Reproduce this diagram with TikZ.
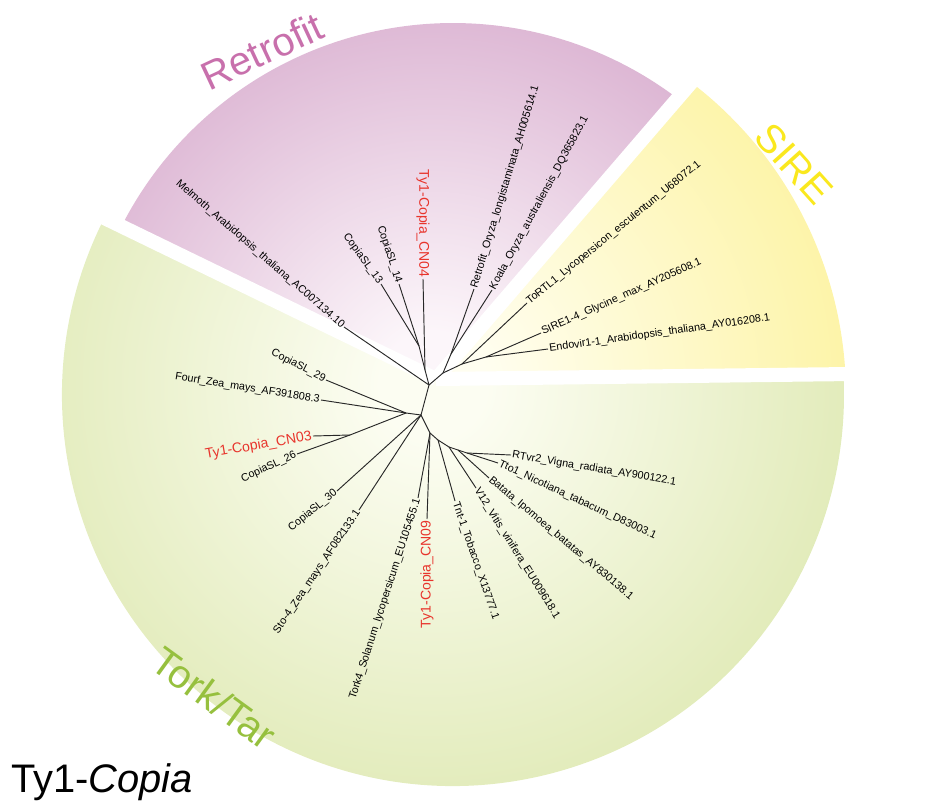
\documentclass[tikz,border=0pt]{standalone}
\usepackage{fontspec}
\setmainfont{Liberation Sans}
\usetikzlibrary{positioning}

\definecolor{retroout}{RGB}{198,136,184}
\definecolor{retroin}{RGB}{252,246,250}
\definecolor{sireout}{RGB}{252,239,132}
\definecolor{sirein}{RGB}{255,254,240}
\definecolor{torkout}{RGB}{208,223,148}
\definecolor{torkin}{RGB}{252,253,242}
\definecolor{retrotext}{RGB}{200,112,172}
\definecolor{siretext}{RGB}{250,232,30}
\definecolor{torktext}{RGB}{150,192,62}
\definecolor{cnred}{RGB}{232,52,44}
\definecolor{branchgray}{RGB}{40,40,40}

\pgfdeclareradialshading{retroshade}{\pgfpointorigin}{color(0bp)=(retroin); color(3bp)=(retroin); color(35bp)=(retroout); color(50bp)=(retroout)}
\pgfdeclareradialshading{sireshade}{\pgfpointorigin}{color(0bp)=(sirein); color(3bp)=(sirein); color(34bp)=(sireout); color(50bp)=(sireout)}
\pgfdeclareradialshading{torkshade}{\pgfpointorigin}{color(0bp)=(torkin); color(3bp)=(torkin); color(38bp)=(torkout); color(50bp)=(torkout)}

\begin{document}
\begin{tikzpicture}[x=0.03cm, y=-0.03cm,
    leaf/.style={font=\fontsize{9.2}{10}\selectfont, inner sep=1pt},
    cn/.style={font=\fontsize{12}{14}\selectfont, text=cnred, inner sep=1pt},
    cat/.style={font=\fontsize{34}{40}\selectfont, inner sep=0pt},
    branch/.style={draw=branchgray, line width=0.8pt},
    gap/.style={draw=white, line width=12pt}]
        \useasboundingbox (0,0) rectangle (944,807);

        \coordinate (ctr)  at (453,395);
        \coordinate (apex) at (436,379);
        \coordinate (hub)  at (433,385);

        \begin{scope}
            \clip (apex) -- ([shift={(ctr)}]-2.8:393) arc[start angle=-2.8, end angle=-52.3, radius=393] -- cycle;
            \shade[shading=sireshade] (hub) circle (440);
        \end{scope}
        \begin{scope}
            \clip (apex) -- ([shift={(ctr)}]-52.3:372) arc[start angle=-52.3, end angle=-153.2, radius=372] -- cycle;
            \shade[shading=retroshade] (hub) circle (440);
        \end{scope}
        \begin{scope}
            \clip (apex) -- ([shift={(ctr)}]-153.2:391) arc[start angle=-153.2, end angle=-362.8, radius=391] -- cycle;
            \shade[shading=torkshade] (hub) circle (440);
        \end{scope}

        \coordinate (g1) at ([shift={(ctr)}]-2.8:440);
        \coordinate (g2) at ([shift={(ctr)}]-52.3:440);
        \coordinate (g3) at ([shift={(ctr)}]-153.2:440);
        \draw[gap] (apex) -- (g1);
        \draw[gap] (apex) -- (g2);
        \draw[gap] (apex) -- (g3);

        \node[cat, text=retrotext, rotate=25]  (retrotitle) at (262,51)  {Retrofit};
        \node[cat, text=siretext, rotate=-48]  (siretitle)  at (794,164) {SIRE};
        \node[cat, text=torktext, rotate=-36]  (torktitle)  at (214,698) {Tork/Tar};
        \node[font=\fontsize{34}{40}\selectfont, anchor=base west, inner sep=0pt] (title) at (11,792) {Ty1-\textit{Copia}};

        \node[leaf, anchor=east, rotate=-54]   (sl13)    at (381,284) {CopiaSL\_13};
        \node[leaf, anchor=east, rotate=-72]   (sl14)    at (399,284) {CopiaSL\_14};
        \node[cn,   anchor=east, rotate=-90]   (cn04)    at (423,279) {Ty1-Copia\_CN04};
        \node[leaf, anchor=east, rotate=-41]   (melmoth) at (344,327) {Melmoth\_Arabidopsis\_thaliana\_AC007134.10};
        \node[leaf, anchor=west, rotate=73]    (retro)   at (474,289) {Retrofit\_Oryza\_longistaminata\_AH005614.1};
        \node[leaf, anchor=west, rotate=61.5]  (koala)   at (492,290) {Koala\_Oryza\_australiensis\_DQ365823.1};
        \node[leaf, anchor=west, rotate=39]    (tortl)   at (527,303) {ToRTL1\_Lycopersicon\_esculentum\_U68072.1};
        \node[leaf, anchor=west, rotate=24]    (sire)    at (541,333) {SIRE1-4\_Glycine\_max\_AY205608.1};
        \node[leaf, anchor=west, rotate=8]     (endovir) at (548,349) {Endovir1-1\_Arabidopsis\_thaliana\_AY016208.1};
        \node[leaf, anchor=east, rotate=-27]   (sl29)    at (326,380) {CopiaSL\_29};
        \node[leaf, anchor=east, rotate=-9]    (fourf)   at (321,400) {Fourf\_Zea\_mays\_AF391808.3};
        \node[cn,   anchor=east, rotate=10]    (cn03)    at (313,436) {Ty1-Copia\_CN03};
        \node[leaf, anchor=east, rotate=25]    (sl26)    at (297,454) {CopiaSL\_26};
        \node[leaf, anchor=east, rotate=39]    (sl30)    at (337,491) {CopiaSL\_30};
        \node[leaf, anchor=east, rotate=56]    (sto)     at (359,510) {Sto-4\_Zea\_mays\_AF082133.1};
        \node[leaf, anchor=east, rotate=72]    (tork)    at (418,498) {Tork4\_Solanum\_lycopersicum\_EU105455.1};
        \node[cn,   anchor=east, rotate=90]    (cn09)    at (427,519) {Ty1-Copia\_CN09};
        \node[leaf, anchor=west, rotate=-71]   (tnt)     at (455,501) {Tnt-1\_Tobacco\_X13777.1};
        \node[leaf, anchor=west, rotate=-58]   (vtw)     at (476,488) {V12\_Vitis\_vinifera\_EU009618.1};
        \node[leaf, anchor=west, rotate=-40]   (batata)  at (489,478) {Batata\_Ipomoea\_batatas\_AY830138.1};
        \node[leaf, anchor=west, rotate=-25]   (tto)     at (498,463) {Tto1\_Nicotiana\_tabacum\_D83003.1};
        \node[leaf, anchor=west, rotate=-9.5]  (rtvr)    at (511,455) {RTvr2\_Vigna\_radiata\_AY900122.1};

        \coordinate (h1)    at (429,385);
        \coordinate (h2)    at (421,415);
        \coordinate (r0)    at (425,370);
        \coordinate (c1314) at (419,346);
        \coordinate (rs)    at (443,373);
        \coordinate (kr)    at (451,354);
        \coordinate (s0)    at (462,364);
        \coordinate (s1)    at (486,357);
        \coordinate (l0)    at (406,413);
        \coordinate (l1)    at (350,435);
        \coordinate (b0)    at (430,433);
        \coordinate (b1)    at (438,440);
        \coordinate (b2)    at (449,447);
        \coordinate (b3)    at (458,450);
        \coordinate (b4)    at (467,453);

        \draw[branch] (h1) -- (h2);
        \draw[branch] (h1) -- (r0);
        \draw[branch] (h1) -- (melmoth.east);
        \draw[branch] (h1) -- (rs);
        \draw[branch] (r0) -- (c1314);
        \draw[branch] (r0) -- (cn04.east);
        \draw[branch] (c1314) -- (sl13.east);
        \draw[branch] (c1314) -- (sl14.east);
        \draw[branch] (rs) -- (kr);
        \draw[branch] (rs) -- (s0);
        \draw[branch] (kr) -- (retro.west);
        \draw[branch] (kr) -- (koala.west);
        \draw[branch] (s0) -- (tortl.west);
        \draw[branch] (s0) -- (s1);
        \draw[branch] (s1) -- (sire.west);
        \draw[branch] (s1) -- (endovir.west);
        \draw[branch] (h2) -- (l0);
        \draw[branch] (l0) -- (sl29.east);
        \draw[branch] (l0) -- (fourf.east);
        \draw[branch] (l0) -- (l1);
        \draw[branch] (l1) -- (cn03.east);
        \draw[branch] (l1) -- (sl26.east);
        \draw[branch] (h2) -- (sl30.east);
        \draw[branch] (h2) -- (sto.east);
        \draw[branch] (h2) -- (b0);
        \draw[branch] (b0) -- (tork.east);
        \draw[branch] (b0) -- (cn09.east);
        \draw[branch] (b0) -- (b1);
        \draw[branch] (b1) -- (tnt.west);
        \draw[branch] (b1) -- (b2);
        \draw[branch] (b2) -- (vtw.west);
        \draw[branch] (b2) -- (b3);
        \draw[branch] (b3) -- (batata.west);
        \draw[branch] (b3) -- (b4);
        \draw[branch] (b4) -- (tto.west);
        \draw[branch] (b4) -- (rtvr.west);
\end{tikzpicture}
\end{document}
